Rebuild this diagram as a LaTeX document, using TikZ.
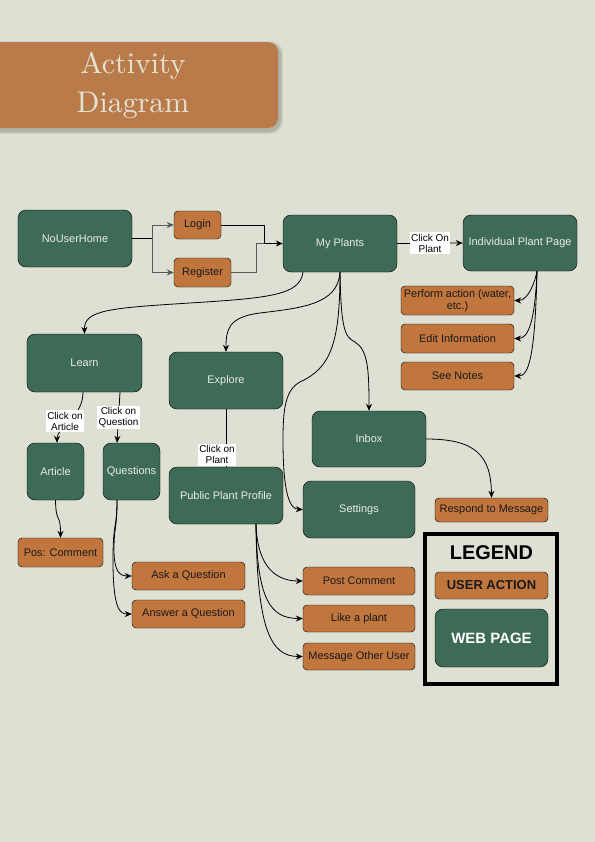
\documentclass[tikz,border=0pt]{standalone}
\usepackage{fontspec}
\newfontfamily\nodefont{Liberation Sans}
\newfontfamily\titlefont{lmroman10-regular.otf}
\usetikzlibrary{arrows.meta, calc}

\definecolor{paper}{RGB}{221,224,210}
\definecolor{leaf}{RGB}{62,107,87}
\definecolor{clay}{RGB}{193,118,62}
\definecolor{banner}{RGB}{186,123,75}
\definecolor{cream}{RGB}{228,228,212}

\begin{document}
\begin{tikzpicture}[x=1bp, y=-1bp,
    every node/.style={font=\nodefont\fontsize{11}{12}\selectfont},
    page/.style={draw=black, fill=leaf, text=white!92!black, rounded corners=8bp,
      minimum width=114bp, minimum height=57bp, inner sep=1bp, align=center},
    action/.style={draw=black, fill=clay, text=black!90, rounded corners=4bp,
      minimum width=113bp, minimum height=28bp, inner sep=1bp, align=center},
    clicklabel/.style={fill=white, inner sep=1.5bp, align=center,
      font=\nodefont\fontsize{10}{11.5}\selectfont},
    flow/.style={-{Stealth[length=7bp,width=6bp]}, line width=0.8bp},
    link/.style={line width=0.8bp}]

    \fill[paper] (0,0) rectangle (595,842);
    \useasboundingbox (0,0) rectangle (595,842);

    % title banner
    \foreach \s/\o in {3/0.05, 2/0.07, 1/0.09}
    \fill[black, opacity=\o, rounded corners=12bp] (-12,44-\s) rectangle (280+\s,131+\s);
    \node[fill=banner, rounded corners=10bp, minimum width=290bp, minimum height=86bp,
      text=cream, font=\titlefont\fontsize{30}{39}\selectfont, align=center]
      (title) at (133,85) {Activity\\Diagram};

    % pages and actions
    \node[page] (home) at (75,238.5) {NoUserHome};
    \node[action, minimum width=47bp] (login) at (197.5,225) {Login};
    \node[action, minimum width=57bp, minimum height=29bp] (register) at (202.5,272.5) {Register};
    \node[page] (plants) at (340,243.5) {My Plants};
    \node[page, minimum height=56bp] (ipp) at (520,243) {Individual Plant Page};

    \node[action, minimum height=29bp] (perform) at (457.5,300.5) {Perform action (water,\\etc.)};
    \node[action, minimum height=29bp] (edit) at (457.5,338.5) {Edit Information};
    \node[action] (notes) at (457.5,376) {See Notes};

    \node[page, minimum width=115bp, minimum height=58bp] (learn) at (84.5,363) {Learn};
    \node[page, minimum width=57bp] (article) at (55.5,471.5) {Article};
    \node[page, minimum width=57bp] (questions) at (131.5,471.5) {Questions};
    \node[action, minimum width=85bp, minimum height=29bp] (poscomment) at (60.5,552.5) {Pos: Comment};
    \node[action] (ask) at (188.5,576) {Ask a Question};
    \node[action] (answer) at (188.5,614) {Answer a Question};

    \node[page] (explore) at (226,380.5) {Explore};
    \node[page] (ppp) at (226,495.5) {Public Plant Profile};
    \node[action, minimum width=112bp] (post) at (359,581) {Post Comment};
    \node[action, minimum width=112bp, minimum height=27bp] (like) at (359,618.5) {Like a plant};
    \node[action, minimum width=112bp, minimum height=27bp] (message) at (359,656.5) {Message Other User};

    \node[page, minimum height=56bp] (inbox) at (369,439) {Inbox};
    \node[page, minimum width=112bp] (settings) at (359,509.5) {Settings};
    \node[action, minimum height=24bp] (respond) at (491.5,510) {Respond to Message};

    % legend
    \node[draw=black, line width=4bp, minimum width=132bp, minimum height=150bp] (legend) at (491,609) {};
    \node[font=\nodefont\bfseries\fontsize{20}{24}\selectfont] (legendtitle) at (491.5,553) {LEGEND};
    \node[action, minimum height=27bp, font=\nodefont\bfseries\fontsize{13}{15}\selectfont] (useraction) at (491.5,585.5) {USER ACTION};
    \node[page, minimum width=113bp, minimum height=58bp, text=white, font=\nodefont\bfseries\fontsize{15}{18}\selectfont] (webpage) at (491.5,638) {WEB PAGE};

    % start
    \coordinate (split) at (152,238.5);
    \coordinate (rjoin) at (256,243.5);
    \coordinate (join) at (264,243.5);
    \draw[link] (home.east) -- (split);
    \draw[flow, black!65] (split) |- (login.west);
    \draw[flow, black!65] (split) |- (register.west);
    \draw[link] (login.east) -| (join);
    \draw[link, black!65] (register.east) -| (rjoin) -- (join);
    \draw[flow] (join) -- (plants.west);

    % my plants
    \coordinate (plantsL) at ($(plants.south)+(-37,0)$);
    \draw[flow] (plants.east) -- node[clicklabel] (lbplant) {Click On\\Plant} (ipp.west);
    \draw[flow] (plantsL) .. controls (300,295) and (270,298) .. (190,303)
      .. controls (110,308) and (84,310) .. (learn.north);
    \draw[flow] (plants.south) .. controls (338,305) and (300,308) .. (260,313)
      .. controls (228,317) and (226,330) .. (explore.north);
    \draw[flow] (plants.south) .. controls (340,345) and (330,368) .. (300,382)
      .. controls (285,390) and (283,410) .. (283,440)
      .. controls (283,495) and (290,509) .. (settings.west);
    \draw[flow] (plants.south) .. controls (341,330) and (345,337) .. (355,342)
      .. controls (368,350) and (369,370) .. (inbox.north);

    % plant page
    \coordinate (ippout) at ($(ipp.south)+(17,0)$);
    \foreach \t/\a in {perform/282, edit/322, notes/360}
    \draw[flow] (ippout) .. controls (535,\a) and +(14,0) .. (\t.east);

    % learn
    \draw[flow] ($(learn.south)+(-1.5,0)$) .. controls +(0,25) and +(0,-15) .. ($(article.north)+(1.5,0)$)
      node[clicklabel, pos=.5, xshift=-5bp] (lbarticle) {Click on\\Article};
    \draw[flow] ($(learn.south)+(35.5,0)$) -- node[clicklabel] (lbquestion) {Click on\\Question}
      ($(questions.north)+(-14.5,0)$);
    \draw[flow] (article.south) .. controls (56,525) and (60.5,512) .. (poscomment.north);
    \coordinate (qout) at ($(questions.south)+(-14.5,0)$);
    \draw[flow] (qout) .. controls (117,530) and (114,525) .. (114,550)
      .. controls (114,572) and (120,576) .. (ask.west);
    \draw[flow] (qout) .. controls (117,530) and (113,520) .. (113,560)
      .. controls (113,610) and (120,614) .. (answer.west);

    % explore
    \draw[link] (explore.south) -- node[clicklabel, pos=.79, xshift=-9bp] (lbpublic) {Click on\\Plant} (ppp.north);
    \coordinate (pppout) at ($(ppp.south)+(30,0)$);
    \foreach \t/\c in {post/560, like/600, message/630}
    \draw[flow] (pppout) .. controls (257,\c) and +(-32,0) .. (\t.west);

    % inbox
    \draw[flow] (inbox.east) .. controls (475,439) and (491,455) .. (respond.north);

\end{tikzpicture}
\end{document}
